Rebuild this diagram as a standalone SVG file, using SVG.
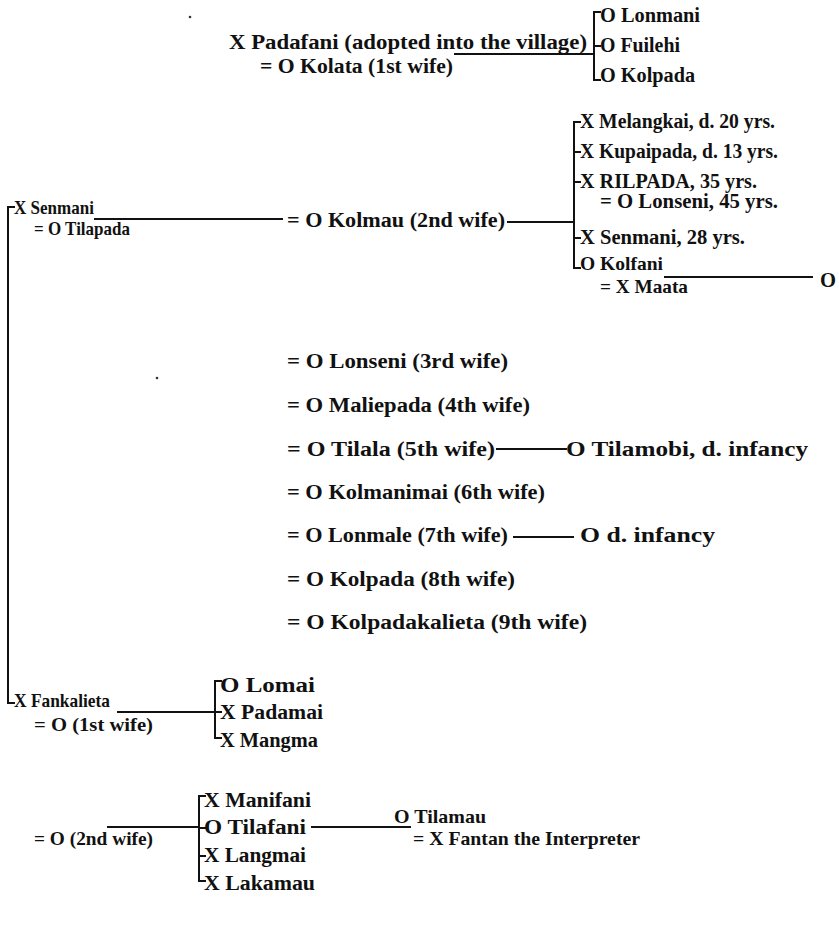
<svg xmlns="http://www.w3.org/2000/svg" width="839" height="937" viewBox="0 0 839 937">
  <style>
    text { font-family: "Liberation Serif", "Times New Roman", serif; font-weight: bold; font-size: 20px; fill: #111; }
    .sm { font-size: 19px; }
    .ln { stroke: #111; stroke-width: 2; fill: none; stroke-linecap: square; }
    .speck { fill: #333; }
  </style>
  <rect width="839" height="937" fill="#fff"/>

  <!-- connectors: marriage lines and sibling brackets -->
  <g id="connectors">
    <!-- Padafani family -->
    <line class="ln" x1="455" y1="54" x2="594" y2="54"/>
    <path class="ln" d="M600 12 H594 V80 H600 M594 46 H600"/>
    <!-- Senmani sibling bracket -->
    <path class="ln" d="M14 207 H8 V703 H14"/>
    <!-- Senmani to 2nd wife -->
    <line class="ln" x1="95" y1="219" x2="282" y2="219"/>
    <line class="ln" x1="508" y1="222" x2="574" y2="222"/>
    <path class="ln" d="M580 122 H574 V268 H580 M574 152 H580 M574 182 H580 M574 238 H580"/>
    <!-- Kolfani and Maata -->
    <line class="ln" x1="665" y1="277" x2="812" y2="277"/>
    <!-- 5th wife child -->
    <line class="ln" x1="497" y1="449" x2="566" y2="449"/>
    <!-- 7th wife child -->
    <line class="ln" x1="514" y1="537" x2="573" y2="537"/>
    <!-- Fankalieta, 1st wife -->
    <line class="ln" x1="118" y1="712" x2="215" y2="712"/>
    <path class="ln" d="M221 681 H215 V738 H221 M215 712 H221"/>
    <!-- Fankalieta, 2nd wife -->
    <line class="ln" x1="108" y1="827" x2="199" y2="827"/>
    <path class="ln" d="M205 796 H199 V881 H205 M199 828 H205 M199 856 H205"/>
    <!-- Tilafani and Fantan -->
    <line class="ln" x1="312" y1="827" x2="410" y2="827"/>
  </g>

  <!-- stray print marks -->
  <circle class="speck" cx="190" cy="17" r="1.3"/>
  <circle class="speck" cx="157" cy="378" r="1.3"/>

  <g id="padafani">
    <text x="229" y="49" textLength="358" lengthAdjust="spacingAndGlyphs">X Padafani (adopted into the village)</text>
    <text x="260" y="73" textLength="193" lengthAdjust="spacingAndGlyphs">= O Kolata (1st wife)</text>
  </g>
  <g id="lonmani"><text x="600" y="22" textLength="100" lengthAdjust="spacingAndGlyphs">O Lonmani</text></g>
  <g id="fuilehi"><text x="600" y="52" textLength="80" lengthAdjust="spacingAndGlyphs">O Fuilehi</text></g>
  <g id="kolpada-1"><text x="600" y="82" textLength="95" lengthAdjust="spacingAndGlyphs">O Kolpada</text></g>

  <g id="senmani">
    <text class="sm" x="14" y="214" textLength="80" lengthAdjust="spacingAndGlyphs">X Senmani</text>
    <text class="sm" x="34" y="235" textLength="96" lengthAdjust="spacingAndGlyphs">= O Tilapada</text>
  </g>
  <g id="kolmau"><text x="287" y="227" textLength="218" lengthAdjust="spacingAndGlyphs">= O Kolmau (2nd wife)</text></g>
  <g id="melangkai"><text x="580" y="128" textLength="195" lengthAdjust="spacingAndGlyphs">X Melangkai, d. 20 yrs.</text></g>
  <g id="kupaipada"><text x="580" y="158" textLength="198" lengthAdjust="spacingAndGlyphs">X Kupaipada, d. 13 yrs.</text></g>
  <g id="rilpada">
    <text x="580" y="188" textLength="177" lengthAdjust="spacingAndGlyphs">X RILPADA, 35 yrs.</text>
    <text x="600" y="208" textLength="178" lengthAdjust="spacingAndGlyphs">= O Lonseni, 45 yrs.</text>
  </g>
  <g id="senmani-28"><text x="580" y="244" textLength="165" lengthAdjust="spacingAndGlyphs">X Senmani, 28 yrs.</text></g>
  <g id="kolfani">
    <text class="sm" x="580" y="270" textLength="83" lengthAdjust="spacingAndGlyphs">O Kolfani</text>
    <text class="sm" x="600" y="293" textLength="88" lengthAdjust="spacingAndGlyphs">= X Maata</text>
  </g>
  <g id="kolfani-child"><text x="820" y="287" textLength="16" lengthAdjust="spacingAndGlyphs">O</text></g>

  <g id="lonseni"><text x="287" y="368" textLength="221" lengthAdjust="spacingAndGlyphs">= O Lonseni (3rd wife)</text></g>
  <g id="maliepada"><text x="287" y="412" textLength="243" lengthAdjust="spacingAndGlyphs">= O Maliepada (4th wife)</text></g>
  <g id="tilala"><text x="287" y="456" textLength="208" lengthAdjust="spacingAndGlyphs">= O Tilala (5th wife)</text></g>
  <g id="tilamobi"><text x="566" y="456" textLength="242" lengthAdjust="spacingAndGlyphs">O Tilamobi, d. infancy</text></g>
  <g id="kolmanimai"><text x="287" y="499" textLength="258" lengthAdjust="spacingAndGlyphs">= O Kolmanimai (6th wife)</text></g>
  <g id="lonmale"><text x="287" y="542" textLength="221" lengthAdjust="spacingAndGlyphs">= O Lonmale (7th wife)</text></g>
  <g id="lonmale-child"><text x="580" y="542" textLength="135" lengthAdjust="spacingAndGlyphs">O d. infancy</text></g>
  <g id="kolpada-8"><text x="287" y="586" textLength="228" lengthAdjust="spacingAndGlyphs">= O Kolpada (8th wife)</text></g>
  <g id="kolpadakalieta"><text x="287" y="629" textLength="300" lengthAdjust="spacingAndGlyphs">= O Kolpadakalieta (9th wife)</text></g>

  <g id="fankalieta">
    <text class="sm" x="14" y="707" textLength="96" lengthAdjust="spacingAndGlyphs">X Fankalieta</text>
    <text class="sm" x="34" y="731" textLength="119" lengthAdjust="spacingAndGlyphs">= O (1st wife)</text>
  </g>
  <g id="lomai"><text x="220" y="692" textLength="95" lengthAdjust="spacingAndGlyphs">O Lomai</text></g>
  <g id="padamai"><text x="220" y="719" textLength="103" lengthAdjust="spacingAndGlyphs">X Padamai</text></g>
  <g id="mangma"><text x="220" y="747" textLength="98" lengthAdjust="spacingAndGlyphs">X Mangma</text></g>

  <g id="fankalieta-2nd-wife"><text class="sm" x="34" y="845" textLength="119" lengthAdjust="spacingAndGlyphs">= O (2nd wife)</text></g>
  <g id="manifani"><text x="204" y="807" textLength="107" lengthAdjust="spacingAndGlyphs">X Manifani</text></g>
  <g id="tilafani"><text x="204" y="834" textLength="102" lengthAdjust="spacingAndGlyphs">O Tilafani</text></g>
  <g id="langmai"><text x="204" y="862" textLength="102" lengthAdjust="spacingAndGlyphs">X Langmai</text></g>
  <g id="lakamau"><text x="204" y="890" textLength="111" lengthAdjust="spacingAndGlyphs">X Lakamau</text></g>
  <g id="tilamau">
    <text class="sm" x="394" y="823" textLength="92" lengthAdjust="spacingAndGlyphs">O Tilamau</text>
    <text class="sm" x="413" y="845" textLength="227" lengthAdjust="spacingAndGlyphs">= X Fantan the Interpreter</text>
  </g>
</svg>
